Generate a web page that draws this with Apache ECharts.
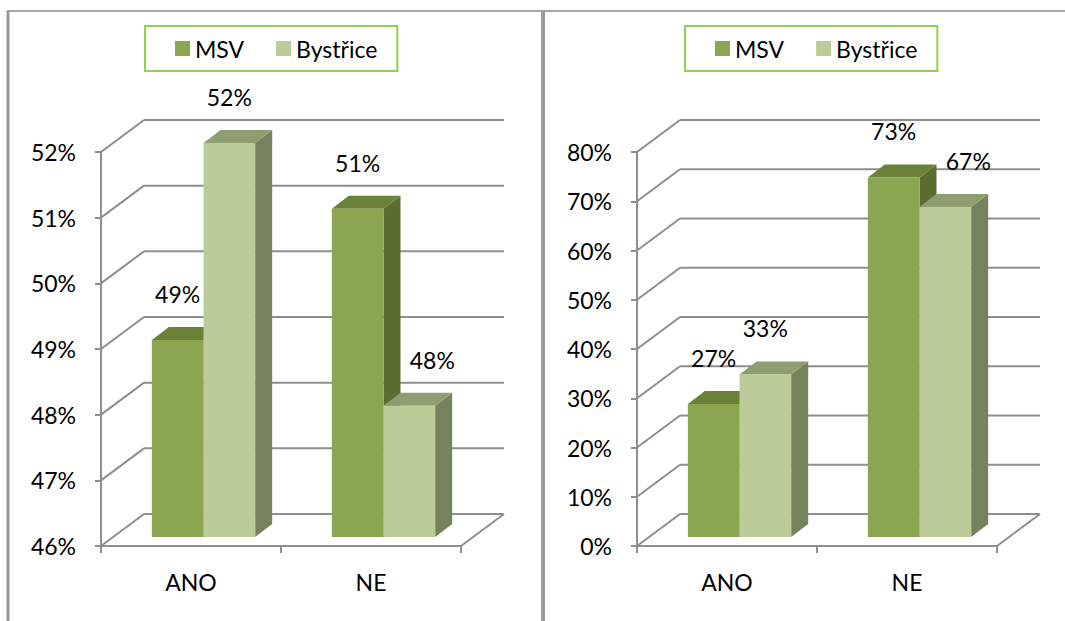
<!DOCTYPE html>
<html><head><meta charset="utf-8">
<script src="https://cdn.jsdelivr.net/npm/echarts@6/dist/echarts.min.js"></script>
<style>html,body{margin:0;padding:0;background:#fff}#c{width:1065px;height:621px}</style>
</head><body><div id="c"></div>
<script>
// ---- data ----
const categories = ['ANO', 'NE'];
const seriesNames = ['MSV', 'Bystřice'];
const leftMSV = [49, 51];
const leftBystrice = [52, 48];
const leftTicks = [46, 47, 48, 49, 50, 51, 52];
const rightMSV = [27, 73];
const rightBystrice = [33, 67];
const rightTicks = [0, 10, 20, 30, 40, 50, 60, 70, 80];

// ---- styles ----
const FONT = 'Lato';
const FS = 23;
const GRID_COLOR = '#8e8e8e';
const WALL = { dx: 43, dy: -32 };   // back wall offset
const PLANE = { dx: 12.5, dy: -9 }; // bar plane offset
const DEPTH = { dx: 17, dy: -13 };  // bar depth
const COLORS = [
  { front: '#8AA650', top: '#6B8138', side: '#5A6E30' },
  { front: '#BCCC98', top: '#8E9E70', side: '#76825E' }
];
// label x-shift per [panel][series][category]
const LABEL_SHIFT = [[[0, 0], [0, 23]], [[0, 0], [0, 23]]];

function wallRender(params, api) {
  const cs = params.coordSys;
  const y = api.coord([0, api.value(1)])[1];
  const isMin = api.value(2) === 1;
  const x0 = cs.x, x1 = cs.x + cs.width;
  const st = { stroke: GRID_COLOR, lineWidth: 2, fill: null };
  const children = [
    { type: 'line', shape: { x1: x0, y1: y, x2: x0 + WALL.dx, y2: y + WALL.dy }, style: st },
    { type: 'line', shape: { x1: x0 + WALL.dx, y1: y + WALL.dy, x2: x1 + WALL.dx, y2: y + WALL.dy }, style: st }
  ];
  if (isMin) {
    children.push({ type: 'line', shape: { x1: x1, y1: y, x2: x1 + WALL.dx, y2: y + WALL.dy }, style: st });
  }
  return { type: 'group', silent: true, children };
}

function barRender(panel, sIdx, axisMin) {
  const col = COLORS[sIdx];
  return function (params, api) {
    const cat = api.value(0), v = api.value(1);
    const band = api.size([1, 0])[0];
    const w = band * 0.287;
    const c = api.coord([cat, v]);
    const b = api.coord([cat, axisMin]);
    const x0 = c[0] + PLANE.dx + (sIdx === 0 ? -w : 0);
    const x1 = x0 + w;
    const yTop = c[1] + PLANE.dy;
    const yBot = b[1] + PLANE.dy;
    const shift = LABEL_SHIFT[panel][sIdx][cat];
    return {
      type: 'group',
      children: [
        { type: 'polygon', shape: { points: [[x1, yTop], [x1 + DEPTH.dx, yTop + DEPTH.dy], [x1 + DEPTH.dx, yBot + DEPTH.dy], [x1, yBot]] }, style: { fill: col.side } },
        { type: 'polygon', shape: { points: [[x0, yTop], [x1, yTop], [x1 + DEPTH.dx, yTop + DEPTH.dy], [x0 + DEPTH.dx, yTop + DEPTH.dy]] }, style: { fill: col.top } },
        { type: 'rect', shape: { x: x0, y: yTop, width: w, height: yBot - yTop }, style: { fill: col.front } },
        { type: 'text', style: { text: v + '%', x: x0 + w / 2 + shift, y: yTop - 46, align: 'center', verticalAlign: 'middle', fontSize: FS, fontFamily: FONT, fill: '#000' } }
      ]
    };
  };
}

function wallData(ticks) {
  return ticks.map((t, i) => [0, t, i === 0 ? 1 : 0]);
}
function barData(vals) {
  return categories.map((c, i) => [i, vals[i]]);
}

const axisLabelStyle = { fontSize: FS, fontFamily: FONT, color: '#000' };
function xAxisCfg(gi) {
  return {
    type: 'category', gridIndex: gi, data: categories, boundaryGap: true,
    axisLine: { show: true, lineStyle: { color: GRID_COLOR, width: 2 } },
    axisTick: { show: true, length: 7, lineStyle: { color: GRID_COLOR, width: 2 } },
    axisLabel: Object.assign({ margin: 24 }, axisLabelStyle),
    splitLine: { show: false }
  };
}
function yAxisCfg(gi, ticks) {
  return {
    type: 'value', gridIndex: gi, min: ticks[0], max: ticks[ticks.length - 1], interval: ticks[1] - ticks[0],
    axisLine: { show: true, lineStyle: { color: GRID_COLOR, width: 2 } },
    axisTick: { show: true, length: 6, lineStyle: { color: GRID_COLOR, width: 2 } },
    axisLabel: Object.assign({ margin: 25, formatter: '{value}%' }, axisLabelStyle),
    splitLine: { show: false }
  };
}
function legendCfg(left) {
  return {
    left: left, top: 26, orient: 'horizontal', data: seriesNames,
    icon: 'rect', itemWidth: 15, itemHeight: 15, itemGap: 32,
    padding: [11, 20, 11, 30],
    borderColor: '#92D050', borderWidth: 2,
    textStyle: { fontSize: FS, fontFamily: FONT, color: '#000' },
    selectedMode: false
  };
}

const chart = echarts.init(document.getElementById('c'), null, { renderer: 'svg' });
chart.setOption({
  animation: false,
  backgroundColor: '#fff',
  textStyle: { fontFamily: FONT },
  legend: [legendCfg(145), legendCfg(685)],
  grid: [
    { left: 101, top: 152, width: 360, height: 394 },
    { left: 637, top: 152, width: 360, height: 394 }
  ],
  xAxis: [xAxisCfg(0), xAxisCfg(1)],
  yAxis: [yAxisCfg(0, leftTicks), yAxisCfg(1, rightTicks)],
  graphic: [
    { type: 'line', shape: { x1: 7, y1: 11, x2: 1065, y2: 11 }, style: { stroke: '#a6a6a6', lineWidth: 2 }, silent: true },
    { type: 'line', shape: { x1: 8, y1: 11, x2: 8, y2: 621 }, style: { stroke: '#9a9a9a', lineWidth: 3 }, silent: true },
    { type: 'line', shape: { x1: 543, y1: 11, x2: 543, y2: 621 }, style: { stroke: '#9a9a9a', lineWidth: 4 }, silent: true }
  ],
  series: [
    { type: 'custom', name: 'wallL', xAxisIndex: 0, yAxisIndex: 0, data: wallData(leftTicks), renderItem: wallRender, z: 1, silent: true },
    { type: 'custom', name: 'wallR', xAxisIndex: 1, yAxisIndex: 1, data: wallData(rightTicks), renderItem: wallRender, z: 1, silent: true },
    { type: 'custom', name: seriesNames[0], xAxisIndex: 0, yAxisIndex: 0, data: barData(leftMSV), renderItem: barRender(0, 0, leftTicks[0]), itemStyle: { color: COLORS[0].front }, z: 2 },
    { type: 'custom', name: seriesNames[1], xAxisIndex: 0, yAxisIndex: 0, data: barData(leftBystrice), renderItem: barRender(0, 1, leftTicks[0]), itemStyle: { color: COLORS[1].front }, z: 3 },
    { type: 'custom', name: seriesNames[0], xAxisIndex: 1, yAxisIndex: 1, data: barData(rightMSV), renderItem: barRender(1, 0, rightTicks[0]), itemStyle: { color: COLORS[0].front }, z: 2 },
    { type: 'custom', name: seriesNames[1], xAxisIndex: 1, yAxisIndex: 1, data: barData(rightBystrice), renderItem: barRender(1, 1, rightTicks[0]), itemStyle: { color: COLORS[1].front }, z: 3 }
  ]
});
</script>
</body></html>
